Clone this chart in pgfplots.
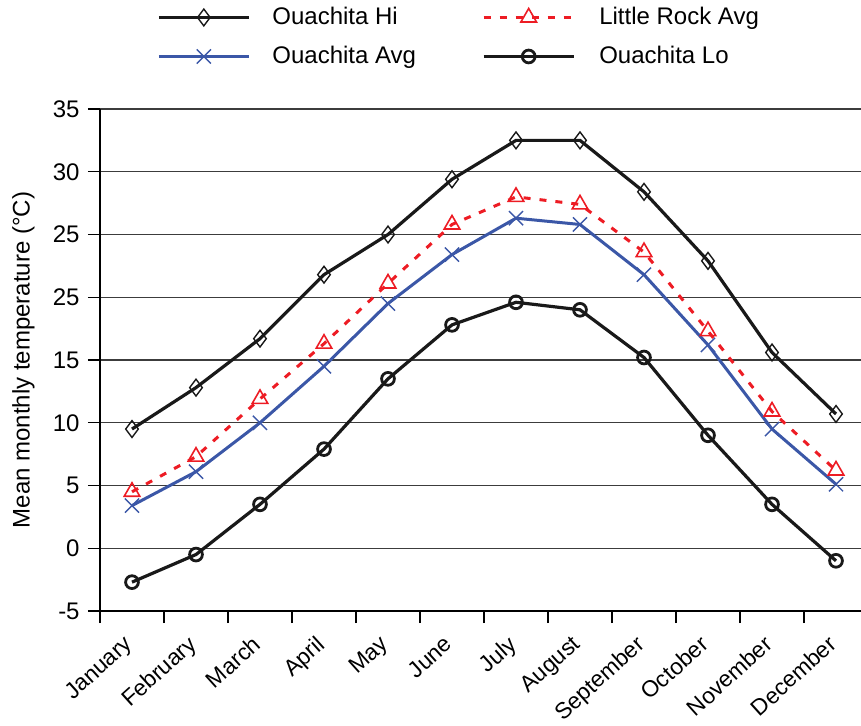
\documentclass[border=0pt]{standalone}
\usepackage{pgfplots}
\pgfplotsset{compat=1.18}
\usepackage{fontspec}
\setmainfont{Liberation Sans}
\definecolor{avgblue}{RGB}{59,87,167}
\definecolor{lrred}{RGB}{237,28,36}
\definecolor{gridgray}{RGB}{60,60,60}
\begin{document}
\fontsize{12}{14}\selectfont
\begin{tikzpicture}
\useasboundingbox (-50pt,-57pt) rectangle (380.5pt,305.5pt);
\begin{axis}[
  at={(0,0)}, anchor=south west,
  scale only axis, width=384pt, height=251pt,
  xmin=0.5, xmax=12.5, ymin=-5, ymax=35,
  axis x line*=bottom, axis y line*=left,
  axis line style={black, line width=0.6pt},
  xtick={1,...,12},
  xticklabels={January,February,March,April,May,June,July,August,September,October,November,December},
  major x tick style={draw=none},
  minor xtick={0.5,1.5,...,12.5},
  minor tick length=6pt,
  minor x tick style={black, line width=0.6pt},
  ytick={-5,0,5,10,15,20,25,30,35},
  yticklabels={-5,0,5,10,15,25,25,30,35},
  major tick length=6pt,
  tick align=outside,
  y tick style={black, line width=0.6pt},
  ymajorgrids, major grid style={gridgray, line width=0.6pt},
  /pgf/number format/assume math mode=true,
  yticklabel style={font=\fontsize{12}{14}\selectfont},
  xticklabel style={font=\fontsize{11.4}{14}\selectfont, rotate=42, anchor=north east, xshift=-3pt, yshift=3pt},
  ylabel={Mean monthly temperature (°C)},
  ylabel style={font=\fontsize{12}{14}\selectfont, yshift=1pt},
  legend columns=2,
  legend cell align=left,
  legend style={at={(axis description cs:0.074,1.212)}, anchor=north west, draw=none, fill=none,
    inner sep=0pt, row sep=5pt, font=\fontsize{12}{14}\selectfont,
    /tikz/column 1/.style={column sep=9pt},
    /tikz/column 2/.style={column sep=31pt},
    /tikz/column 3/.style={column sep=10pt}},
  legend image code/.code={\draw[mark repeat=2,mark phase=2] plot coordinates {(0pt,0pt) (22.5pt,0pt) (45pt,0pt)};},
]
\addplot[black!90, line width=1.6pt, mark=diamond, mark size=4.2pt, mark options={solid, line width=0.7pt, fill=white}] coordinates {
(1,9.5) (2,12.8) (3,16.7) (4,21.8) (5,25.0) (6,29.4) (7,32.5) (8,32.5) (9,28.4) (10,22.9) (11,15.6) (12,10.7)};
\addlegendentry{Ouachita Hi}
\addplot[lrred, line width=1.5pt, dash pattern=on 3.5pt off 4.5pt, mark=triangle, mark size=4.5pt, mark options={solid, line width=0.8pt}] coordinates {
(1,4.5) (2,7.3) (3,11.9) (4,16.3) (5,21.1) (6,25.8) (7,28.0) (8,27.4) (9,23.6) (10,17.3) (11,10.9) (12,6.2)};
\addlegendentry{Little Rock Avg}
\addplot[avgblue, line width=1.5pt, mark=x, mark size=5pt, mark options={solid, line width=0.7pt}] coordinates {
(1,3.4) (2,6.1) (3,10.0) (4,14.5) (5,19.5) (6,23.4) (7,26.3) (8,25.8) (9,21.8) (10,16.2) (11,9.5) (12,5.1)};
\addlegendentry{Ouachita Avg}
\addplot[black!90, line width=1.6pt, mark=o, mark size=3.2pt, mark options={solid, line width=1.4pt, fill=white}] coordinates {
(1,-2.7) (2,-0.5) (3,3.5) (4,7.9) (5,13.5) (6,17.8) (7,19.6) (8,19.0) (9,15.2) (10,9.0) (11,3.5) (12,-1.0)};
\addlegendentry{Ouachita Lo}
\end{axis}
\end{tikzpicture}
\end{document}
